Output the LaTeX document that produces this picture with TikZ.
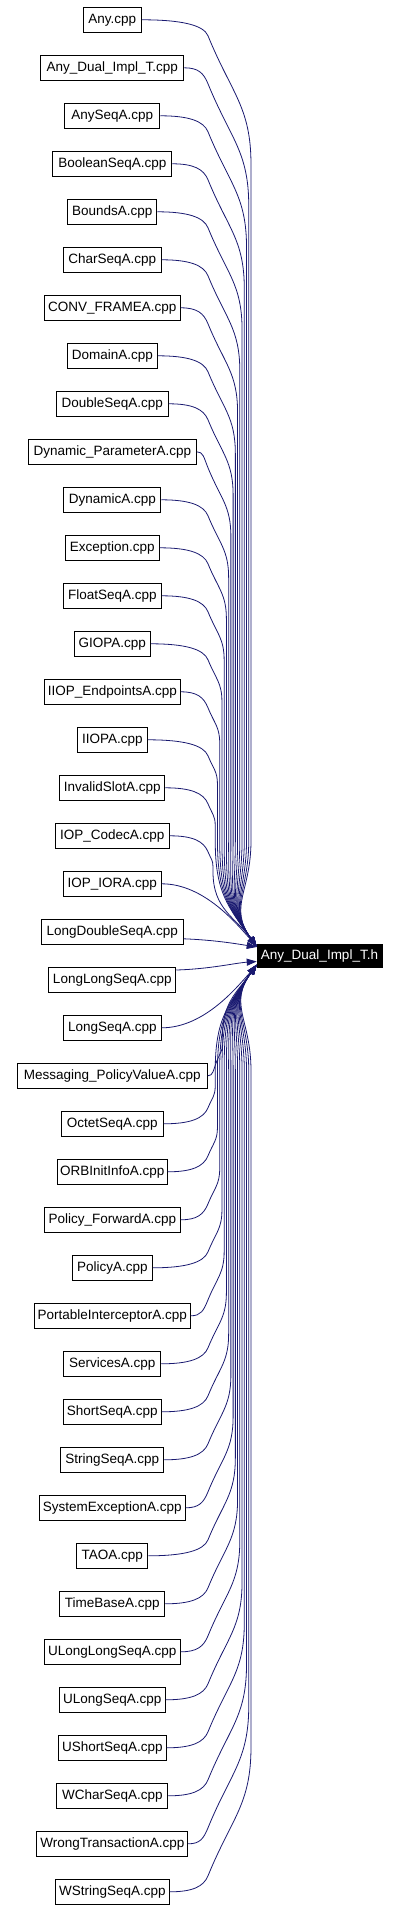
\documentclass[tikz,border=0pt]{standalone}
\usepackage{fontspec}
\setmainfont{Liberation Sans}
\usetikzlibrary{arrows.meta}
\definecolor{edgecol}{HTML}{191970}
\tikzset{
  srcbox/.style={draw=black, line width=0.9pt, fill=white, minimum height=25pt, inner sep=0pt, font=\fontsize{13.5}{15}\selectfont, text=black},
  tgtbox/.style={draw=black, fill=black, text=white, minimum width=125.6pt, minimum height=23.3pt, inner sep=0pt, font=\fontsize{13.5}{15}\selectfont},
  dep/.style={draw=edgecol, line width=0.8pt, -{Triangle[length=10pt,width=7pt]}},
}
\begin{document}
\begin{tikzpicture}[x=1pt,y=-1pt]
\useasboundingbox (0,0) rectangle (400,1910);
\node[tgtbox] (t) at (319.5,955.7) {Any\_Dual\_Impl\_T.h};
\foreach \i/\lbl/\w in {
 1/Any.cpp/58, 2/Any\_Dual\_Impl\_T.cpp/143, 3/AnySeqA.cpp/95, 4/BooleanSeqA.cpp/119,
 5/BoundsA.cpp/89, 6/CharSeqA.cpp/98, 7/CONV\_FRAMEA.cpp/136, 8/DomainA.cpp/90,
 9/DoubleSeqA.cpp/112, 10/Dynamic\_ParameterA.cpp/168, 11/DynamicA.cpp/97, 12/Exception.cpp/94,
 13/FloatSeqA.cpp/98, 14/GIOPA.cpp/76, 15/IIOP\_EndpointsA.cpp/136, 16/IIOPA.cpp/70,
 17/InvalidSlotA.cpp/105, 18/IOP\_CodecA.cpp/114, 19/IOP\_IORA.cpp/98, 20/LongDoubleSeqA.cpp/142,
 21/LongLongSeqA.cpp/127, 22/LongSeqA.cpp/98, 23/Messaging\_PolicyValueA.cpp/190, 24/OctetSeqA.cpp/102,
 25/ORBInitInfoA.cpp/110, 26/Policy\_ForwardA.cpp/136, 27/PolicyA.cpp/80, 28/PortableInterceptorA.cpp/156,
 29/ServicesA.cpp/97, 30/ShortSeqA.cpp/98, 31/StringSeqA.cpp/103, 32/SystemExceptionA.cpp/146,
 33/TAOA.cpp/71, 34/TimeBaseA.cpp/105, 35/ULongLongSeqA.cpp/136, 36/ULongSeqA.cpp/106,
 37/UShortSeqA.cpp/108, 38/WCharSeqA.cpp/111, 39/WrongTransactionA.cpp/151, 40/WStringSeqA.cpp/114}{
  \pgfmathsetmacro\yy{19.8+(\i-1)*48}
  \pgfmathsetmacro\xr{112.3+\w/2}
  \node[srcbox, minimum width=\w pt] (n\i) at (112.3,\yy) {\lbl};
  \pgfmathtruncatemacro\kk{\i<21 ? 20-\i : \i-21}
  \pgfmathtruncatemacro\sg{\i<21 ? 1 : -1}
  \ifnum\kk<2
    \ifnum\kk=1
      \pgfmathsetmacro\cy{955.7-(\sg)*30}
      \pgfmathsetmacro\ay{955.7-(\sg)*9.7}
      \draw[dep] (n\i.east) .. controls (205,\yy) and (238,\cy) .. (256.7,\ay);
    \fi
  \else
    \pgfmathsetmacro\dd{abs(955.7-\yy)}
    \pgfmathsetmacro\kx{max(208,\xr+10)}
    \pgfmathsetmacro\xv{max(213+38*(\kk-2)/17,\kx+5)}
    \pgfmathsetmacro\hv{3*(\xv-\kx)}
    \pgfmathsetmacro\wd{min(115,\dd-21-\hv)}
    \pgfmathsetmacro\ky{\yy+(\sg)*16}
    \pgfmathsetmacro\vy{\ky+(\sg)*\hv}
    \pgfmathsetmacro\wy{955.7-(\sg)*\wd}
    \pgfmathsetmacro\ay{955.7-(\sg)*9}
    \pgfmathsetmacro\ca{\xr+0.6*(\kx-\xr)}
    \pgfmathsetmacro\cbx{\kx-4.4}
    \pgfmathsetmacro\cby{\ky-(\sg)*10.8}
    \pgfmathsetmacro\dax{\kx+0.55*(\xv-\kx)}
    \pgfmathsetmacro\day{\ky+(\sg)*0.45*\hv}
    \pgfmathsetmacro\dby{\ky+(\sg)*0.55*\hv}
    \pgfmathsetmacro\ey{955.7-(\sg)*0.55*\wd}
    \pgfmathsetmacro\fx{256.7-0.25*\wd}
    \pgfmathsetmacro\fy{955.7-(\sg)*(9+0.35*\wd)}
    \draw[dep] (n\i.east) .. controls (\ca,\yy) and (\cbx,\cby) .. (\kx,\ky)
      .. controls (\dax,\day) and (\xv,\dby) .. (\xv,\vy)
      -- (\xv,\wy)
      .. controls (\xv,\ey) and (\fx,\fy) .. (256.7,\ay);
  \fi
}
\draw[dep] ([yshift=-7pt]n20.east) .. controls (215,940) and (238,944) .. (256.7,947);
\draw[dep] ([yshift=9.8pt]n21.east) .. controls (210,969) and (235,963) .. (256.7,961.5);
\end{tikzpicture}
\end{document}
